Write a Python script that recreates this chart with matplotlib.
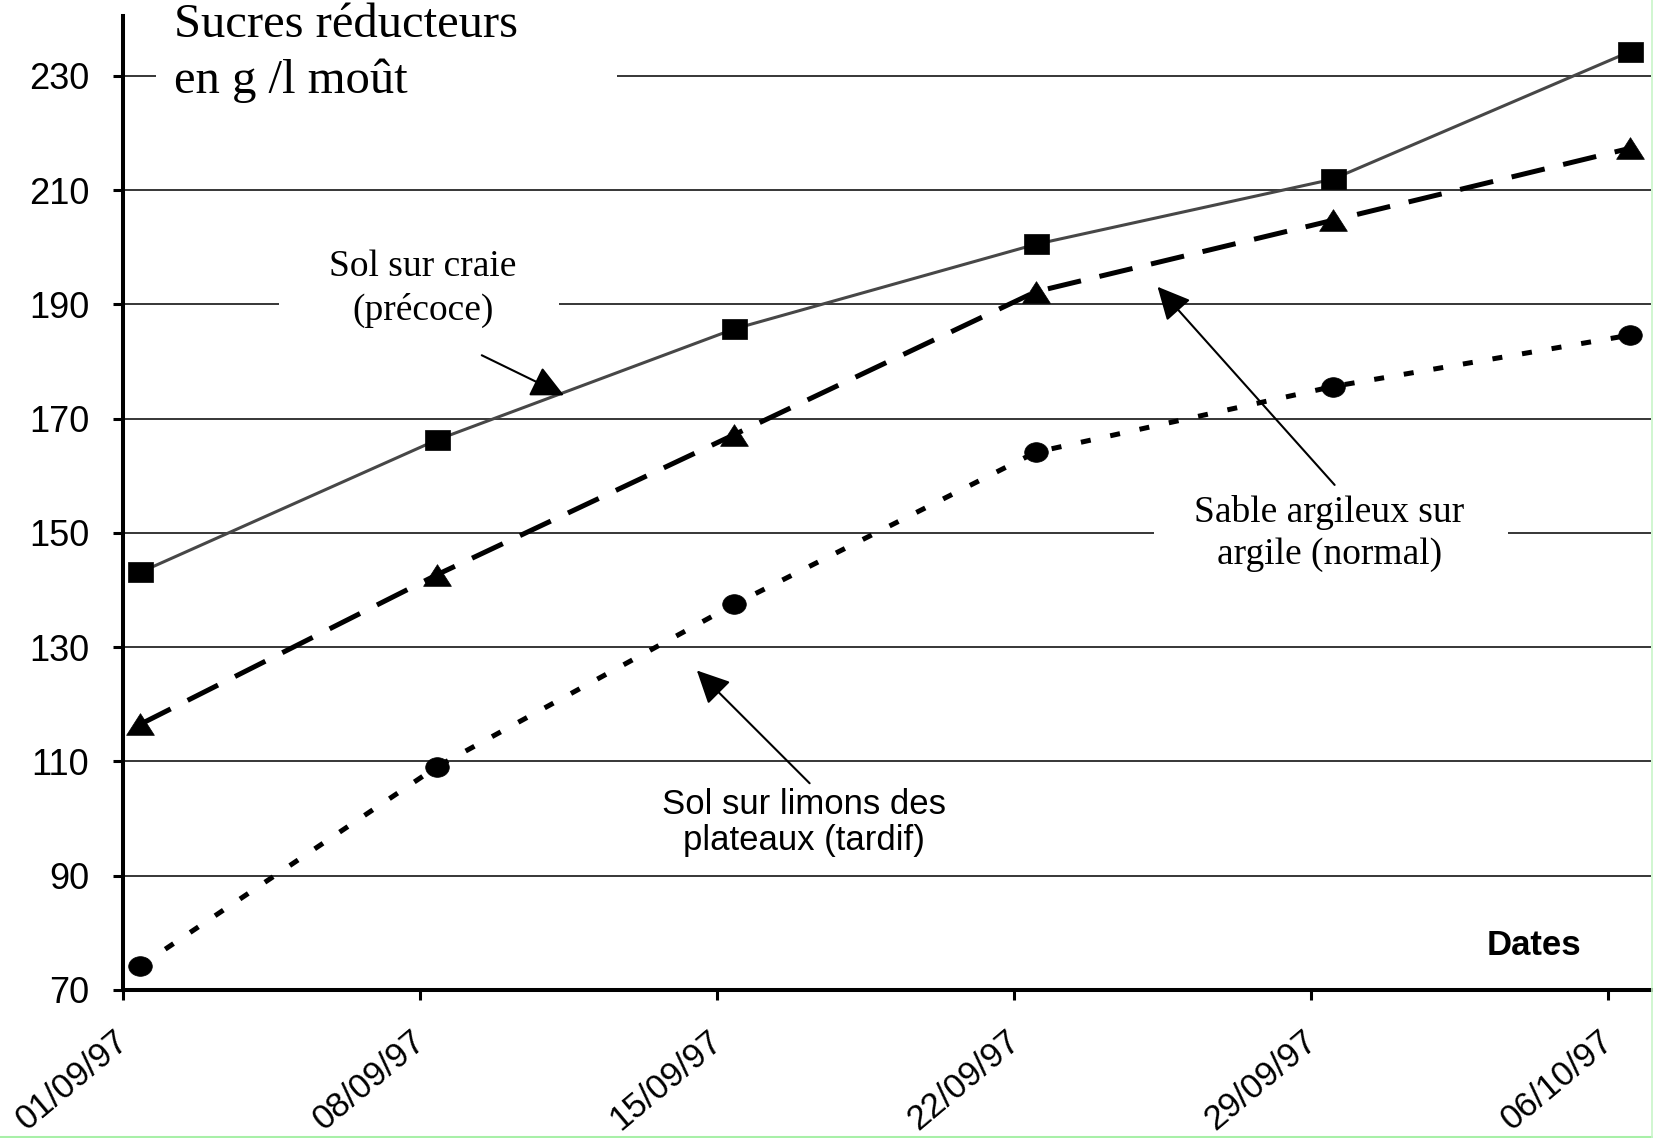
import matplotlib
matplotlib.use('Agg')
import matplotlib.pyplot as plt
import numpy as np
from matplotlib.patches import Rectangle
from matplotlib.lines import Line2D
from matplotlib.path import Path
from matplotlib.transforms import ScaledTranslation, Affine2D

# ---------------- data ----------------
dates = ['01/09/97', '08/09/97', '15/09/97', '22/09/97', '29/09/97', '06/10/97']
date_days = [0, 7, 14, 21, 28, 35]            # days since 01/09/97
sample_days = [0.4, 7.4, 14.4, 21.5, 28.5, 35.5]
craie = [143.1, 166.3, 185.7, 200.5, 211.9, 234.2]     # Sol sur craie (précoce)
sable = [116.5, 142.7, 167.2, 192.2, 204.7, 217.3]     # Sable argileux sur argile (normal)
limons = [74.2, 109.1, 137.5, 164.1, 175.6, 184.6]     # Sol sur limons des plateaux (tardif)
yticks = [70, 90, 110, 130, 150, 170, 190, 210, 230]

# layout helper (reference pixel -> figure fraction)
W, H = 1568.0, 1079.5
def fp(x, y):
    return (x / W, 1 - y / H)

SANS = ['Liberation Sans', 'DejaVu Sans']
SERIF = ['Liberation Serif', 'DejaVu Serif']

# slightly wide markers (the original chart is horizontally stretched)
sq_marker = Path([(-1.25, -1), (1.25, -1), (1.25, 1), (-1.25, 1), (-1.25, -1)],
                 [Path.MOVETO, Path.LINETO, Path.LINETO, Path.LINETO, Path.CLOSEPOLY])
tri_marker = Path([(-1.0, -0.78), (1.0, -0.78), (0.0, 0.78), (-1.0, -0.78)],
                  [Path.MOVETO, Path.LINETO, Path.LINETO, Path.CLOSEPOLY])
circ_marker = Path.unit_circle().transformed(Affine2D().scale(1.2, 1.0))

fig = plt.figure(figsize=(16.53, 11.38), dpi=100)
ax = fig.add_axes([117 / W, 1 - 939 / H, (1566 - 117) / W, (939 - 15) / H])

ax.set_xlim(0, 36.0)
ax.set_ylim(70, 240.5)

# grid
ax.set_axisbelow(True)
ax.set_yticks(yticks)
ax.yaxis.grid(True, color='black', lw=1.1)
ax.xaxis.grid(False)

# spines
for s in ['top', 'right']:
    ax.spines[s].set_visible(False)
for s in ['left', 'bottom']:
    ax.spines[s].set_linewidth(2.9)
    ax.spines[s].set_zorder(2.5)

ax.set_xticks(date_days)
ax.set_xticklabels(dates, rotation=40, ha='right', va='top', rotation_mode='anchor',
                   family=SANS, fontsize=25)
ax.set_yticklabels([str(v) for v in yticks], family=SANS, fontsize=26)
ax.tick_params(axis='both', direction='out', length=7.5, width=2.2, color='black')
ax.tick_params(axis='y', pad=17)
ax.tick_params(axis='x', pad=17)
shift = ScaledTranslation(-7 / 72, 0, fig.dpi_scale_trans)
for lab in ax.get_xticklabels():
    lab.set_transform(lab.get_transform() + shift)

# white label boxes interrupting grid lines
for (x0, y0, x1, y1) in [(148, 0, 585, 100), (265, 235, 530, 315), (1095, 465, 1430, 548)]:
    ax.add_patch(Rectangle(fp(x0, y1), (x1 - x0) / W, (y1 - y0) / H,
                           transform=fig.transFigure, facecolor='white',
                           edgecolor='none', zorder=1.5, clip_on=False))

# series
ax.plot(sample_days, craie, color='#474747', lw=2.2, marker=sq_marker, markersize=18,
        markerfacecolor='black', markeredgecolor='black', markeredgewidth=0.5,
        zorder=3, clip_on=False)
ax.plot(sample_days, sable, color='black', lw=3.6, dashes=(6.8, 3.8), marker=tri_marker,
        markersize=20, markerfacecolor='black', markeredgecolor='black', markeredgewidth=0.5,
        zorder=3, clip_on=False)
ax.plot(sample_days, limons, color='black', lw=3.6, dashes=(2.0, 4.0), marker=circ_marker,
        markersize=17, markerfacecolor='black', markeredgecolor='black', markeredgewidth=0.5,
        zorder=3, clip_on=False)

# texts
fig.text(*fp(165, 50), 'Sucres réducteurs\nen g /l moût', family=SERIF, fontsize=35,
         ha='left', va='center', linespacing=1.33, zorder=4)
fig.text(*fp(401, 274), 'Sol sur craie\n(précoce)', family=SERIF, fontsize=27,
         ha='center', va='center', multialignment='center', linespacing=1.3, zorder=4)
fig.text(*fp(1261, 506), 'Sable argileux sur\nargile (normal)', family=SERIF, fontsize=27,
         ha='center', va='center', multialignment='center', linespacing=1.3, zorder=4)
fig.text(*fp(763, 780), 'Sol sur limons des\nplateaux (tardif)', family=SANS, fontsize=25,
         ha='center', va='center', multialignment='center', linespacing=1.12, zorder=4)
fig.text(*fp(1455, 897), 'Dates', family=SANS, fontsize=25, fontweight='bold',
         ha='center', va='center', zorder=4)

# arrows
arrow_kw = dict(arrowstyle='-|>,head_length=0.45,head_width=0.22', color='black', lw=1.5,
                mutation_scale=45, shrinkA=0, shrinkB=0)
for start, end in [((457, 337), (535, 375)), ((1266, 460), (1098, 272)), ((768, 743), (661, 636))]:
    ax.annotate('', xy=fp(*end), xycoords='figure fraction',
                xytext=fp(*start), textcoords='figure fraction', arrowprops=arrow_kw,
                zorder=4)

# faint green frame edges
fig.add_artist(Line2D([0, 1], [1.5 / 1138, 1.5 / 1138], transform=fig.transFigure,
                      color='#a8f0a8', lw=2.2))
fig.add_artist(Line2D([1 - 1 / 1653, 1 - 1 / 1653], [0, 1], transform=fig.transFigure,
                      color='#c8f5c8', lw=1.2))

fig.savefig('out.png', dpi=100, facecolor='white')
